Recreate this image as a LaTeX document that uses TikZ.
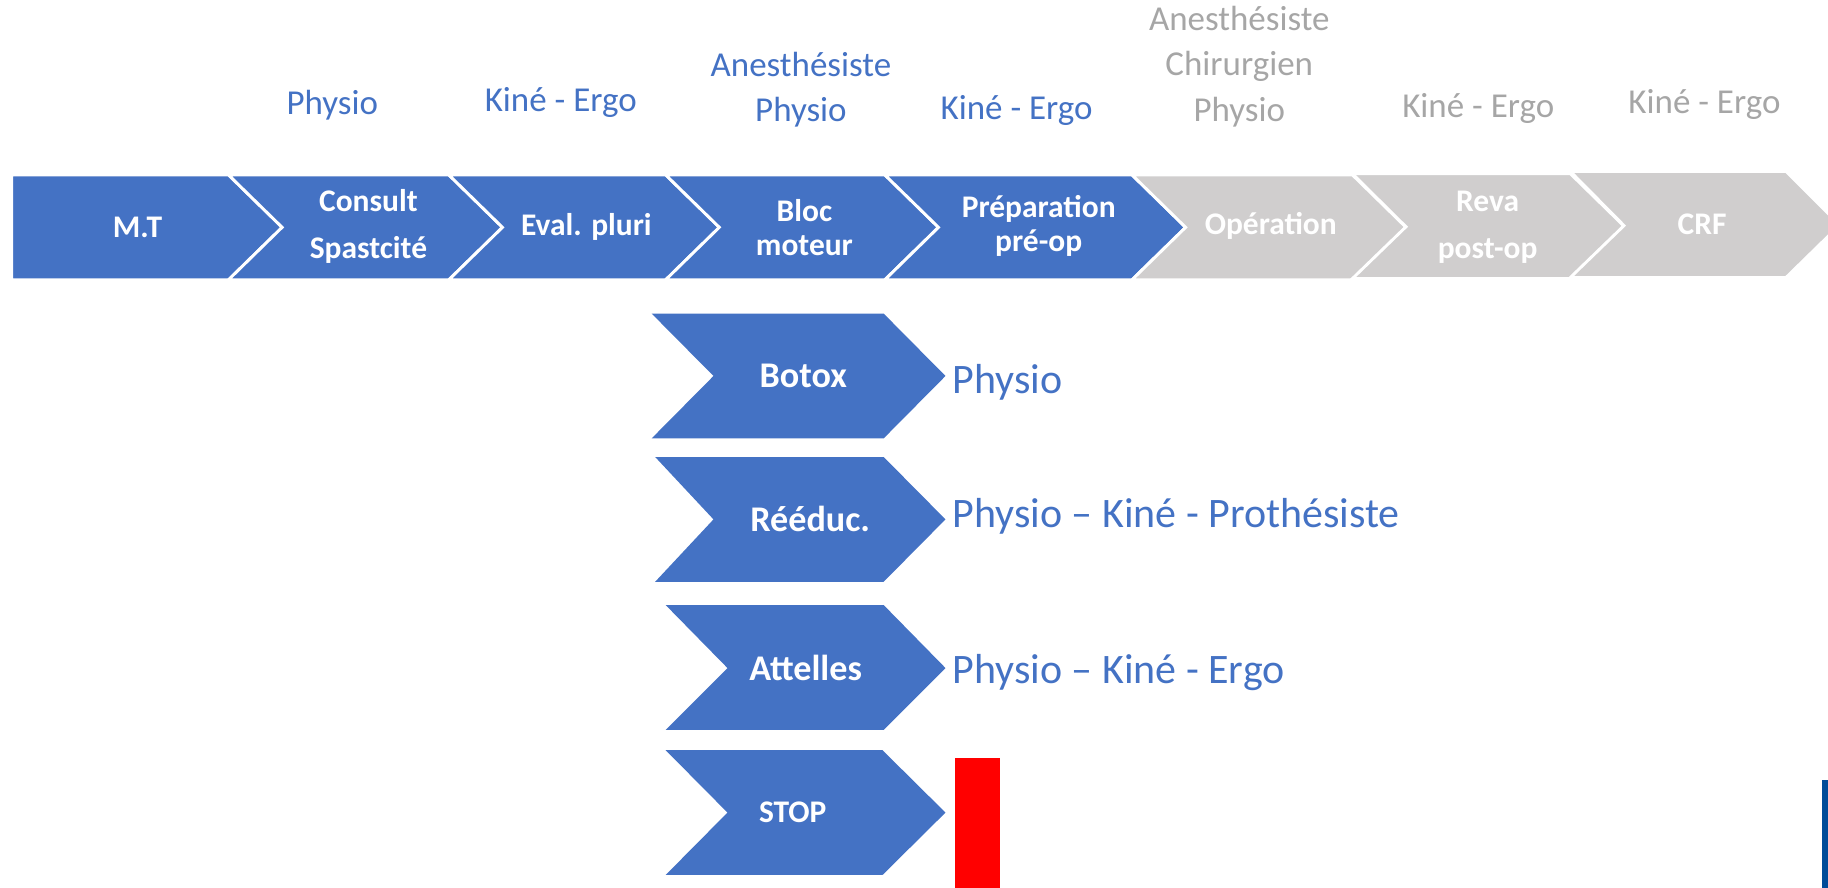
\documentclass[tikz,border=0pt]{standalone}
\usepackage{fontspec}
\setmainfont{Carlito}
\definecolor{cblue}{HTML}{4472C4}
\definecolor{cgrey}{HTML}{D0CECE}
\definecolor{tgrey}{HTML}{A6A6A6}
\definecolor{dblue}{HTML}{004C99}
\begin{document}
\begin{tikzpicture}[x=1pt,y=-1pt,
  bluechev/.style={fill=cblue,draw=white,line width=2.5pt,line join=miter},
  greychev/.style={fill=cgrey,draw=white,line width=2.5pt,line join=miter},
  lowchev/.style={fill=cblue},
  toplab/.style={inner sep=0pt,text=white,align=center,font=\bfseries\fontsize{27}{40}\selectfont},
  tightlab/.style={toplab,font=\bfseries\fontsize{27}{29}\selectfont},
  lowlab/.style={inner sep=0pt,text=white,font=\bfseries\fontsize{31}{36}\selectfont},
  who/.style={inner sep=0pt,text=cblue,align=center,font=\fontsize{30}{39}\selectfont},
  whogrey/.style={who,text=tgrey},
  bigwho/.style={inner sep=0pt,anchor=west,text=cblue,font=\fontsize{36}{42}\selectfont}]
\useasboundingbox (0,0) rectangle (1568,761);
\clip (0,0) rectangle (1568,761);
% top row
\path[bluechev] (10,150) -- (196,150) -- (242,195) -- (196,240) -- (10,240) -- cycle;
\path[bluechev] (196,150) -- (385,150) -- (431,195) -- (385,240) -- (196,240) -- (242,195) -- cycle;
\path[bluechev] (385,150) -- (571,150) -- (617,195) -- (571,240) -- (385,240) -- (431,195) -- cycle;
\path[bluechev] (571,150) -- (759,150) -- (805,195) -- (759,240) -- (571,240) -- (617,195) -- cycle;
\path[bluechev] (759,150) -- (971,150) -- (1017,195) -- (971,240) -- (759,240) -- (805,195) -- cycle;
\path[greychev] (971,150) -- (1160,150) -- (1206,195) -- (1160,240) -- (971,240) -- (1017,195) -- cycle;
\path[greychev] (1160,149) -- (1347,149) -- (1393,194) -- (1347,239) -- (1160,239) -- (1206,194.5) -- cycle;
\path[greychev] (1347,147) -- (1532,147) -- (1578,193) -- (1532,238) -- (1347,238) -- (1393,193.5) -- cycle;
\node[toplab] (mt) at (118,195) {M.T};
\node[toplab] (consult) at (316,194) {Consult\\Spastcité};
\node[toplab] (eval) at (503,195) {Eval. pluri};
\node[tightlab] (bloc) at (690,195) {Bloc\\moteur};
\node[tightlab] (prep) at (891,194) {Préparation\\pré-op};
\node[toplab] (oper) at (1090,194) {Opération};
\node[toplab] (reva) at (1276,195) {Reva\\post-op};
\node[toplab] (crf) at (1460,192) {CRF};
% professionals above
\node[who] (w1) at (285,90) {Physio};
\node[who] (w2) at (481,88) {Kiné - Ergo};
\node[who] (w3) at (687,77) {Anesthésiste\\Physio};
\node[who] (w4) at (872,95) {Kiné - Ergo};
\node[whogrey] (w5) at (1063,57) {Anesthésiste\\Chirurgien\\Physio};
\node[whogrey] (w6) at (1268,93) {Kiné - Ergo};
\node[whogrey] (w7) at (1462,90) {Kiné - Ergo};
% lower chevrons
\path[lowchev] (559,269) -- (758,269) -- (811,322.5) -- (758,376) -- (559,376) -- (612,322.5) -- cycle;
\path[lowchev] (562,392) -- (758,392) -- (811,445.5) -- (758,499) -- (562,499) -- (612,445.5) -- cycle;
\path[lowchev] (571,519) -- (758,519) -- (811,573) -- (758,626) -- (571,626) -- (624,573) -- cycle;
\path[lowchev] (571,643.5) -- (757,643.5) -- (811,697) -- (757,750.5) -- (571,750.5) -- (624,697) -- cycle;
\node[lowlab] (botox) at (689,322.5) {Botox};
\node[lowlab] (reeduc) at (695,445.5) {Rééduc.};
\node[lowlab] (attelles) at (691,573) {Attelles};
\node[lowlab,font=\bfseries\fontsize{27}{32}\selectfont] (stop) at (680,697) {STOP};
\node[bigwho] (b1) at (817,328) {Physio};
\node[bigwho] (b2) at (817,443) {Physio – Kiné - Prothésiste};
\node[bigwho] (b3) at (817,577) {Physio – Kiné - Ergo};
\fill[red] (819,650) rectangle (858,770);
\fill[dblue] (1563,669) rectangle (1570,770);
\end{tikzpicture}
\end{document}
